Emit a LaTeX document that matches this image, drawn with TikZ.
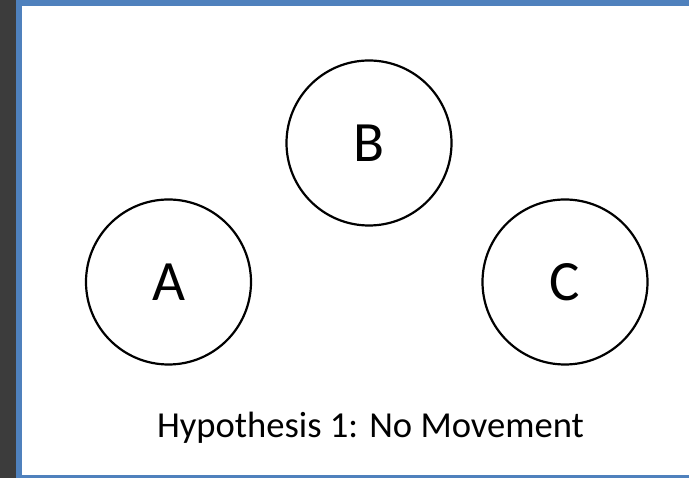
\documentclass[tikz,border=0pt]{standalone}
\usepackage{fontspec}
\setmainfont{Carlito}
\usepackage{tikz}
\usetikzlibrary{positioning}
\usetikzlibrary{calc}

\definecolor{frameblue}{HTML}{4F81BD}
\definecolor{sidegray}{HTML}{3C3C3C}

\begin{document}
\begin{tikzpicture}[x=1pt, y=-1pt, every node/.style={inner sep=0pt}, group/.style={circle, draw, line width=2.2pt, minimum size=165pt, font=\fontsize{57}{60}\selectfont}]
        % Fix the page size
        \useasboundingbox (0,0) rectangle (689,478);

        % Draw the window frame
        \fill[sidegray] (0,0) rectangle (16,478);
        \fill[frameblue] (16,0) rectangle (689,6);
        \fill[frameblue] (16,0) rectangle (22,478);
        \fill[frameblue] (16,475) rectangle (689,478);

        % Draw the three groups
        \node[group] (A) at (168.5,282) {A};
        \node[group] (B) at (369,143) {B};
        \node[group] (C) at (565,282) {C};

        % Caption below the groups
        \node[anchor=base, font=\fontsize{36.6}{42}\selectfont] (caption) at (370.5,438) {Hypothesis 1: No Movement};
      \end{tikzpicture}
\end{document}
